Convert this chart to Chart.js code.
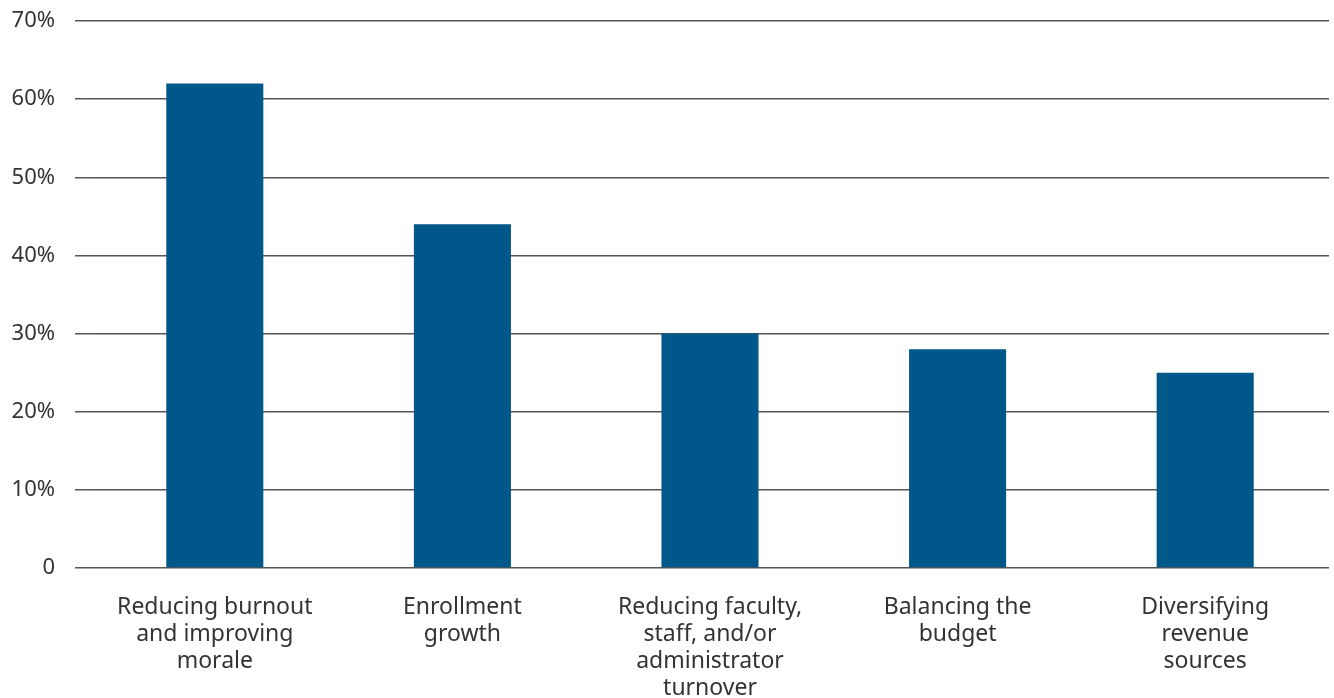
<!DOCTYPE html>
<html>
<head>
<meta charset="utf-8">
<script src="https://cdn.jsdelivr.net/npm/chart.js@4"></script>
<style>
  html, body { margin: 0; padding: 0; background: #fff; }
  #wrap { width: 1334px; height: 698px; }
</style>
</head>
<body>
<div id="wrap"><canvas id="chart"></canvas></div>
<script>
// priorities, share of respondents (%)
const categories = [
  ['Reducing burnout', 'and improving', 'morale'],
  ['Enrollment', 'growth'],
  ['Reducing faculty,', 'staff, and/or', 'administrator', 'turnover'],
  ['Balancing the', 'budget'],
  ['Diversifying', 'revenue', 'sources']
];
const values = [62, 44, 30, 28, 25];
const yTicks = [0, 10, 20, 30, 40, 50, 60, 70];

const ctx = document.getElementById('chart').getContext('2d');
Chart.defaults.font.family = '"Noto Sans", sans-serif';
Chart.defaults.color = '#333';

new Chart(ctx, {
  type: 'bar',
  data: {
    labels: categories,
    datasets: [{
      data: values,
      backgroundColor: '#00578a',
      barPercentage: 0.392,
      categoryPercentage: 1
    }]
  },
  options: {
    responsive: true,
    maintainAspectRatio: false,
    animation: false,
    layout: { padding: { top: 0, right: 5, left: 0, bottom: 0 } },
    plugins: { legend: { display: false }, tooltip: { enabled: false } },
    scales: {
      x: {
        grid: { display: false },
        border: { display: false },
        ticks: { font: { size: 23, lineHeight: 1.17 }, padding: 18, maxRotation: 0, autoSkip: false },
        afterFit: s => { s.height = 130; s.paddingTop = 0; s.paddingBottom = 0; }
      },
      y: {
        min: 0, max: 70,
        afterBuildTicks: s => { s.ticks = yTicks.map(v => ({ value: v })); },
        grid: { color: '#555', lineWidth: 1.5, drawTicks: true, tickLength: 16 },
        border: { display: false },
        ticks: {
          font: { size: 22 },
          padding: 20,
          callback: v => v === 0 ? '0' : v + '%'
        },
        afterFit: s => { s.width = 91; s.paddingTop = 21; s.paddingBottom = 0; }
      }
    }
  }
});
</script>
</body>
</html>
